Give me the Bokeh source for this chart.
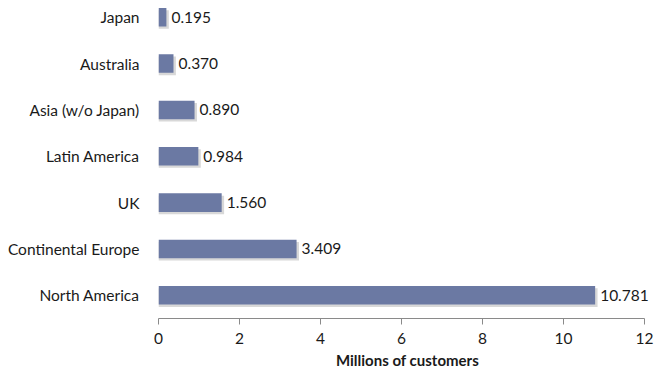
from bokeh.plotting import figure
from bokeh.models import Range1d, LinearAxis, FixedTicker, ColumnDataSource
from bokeh.core.properties import value
from bokeh.embed import file_html
from bokeh.resources import INLINE

regions = ["North America", "Continental Europe", "UK", "Latin America",
           "Asia (w/o Japan)", "Australia", "Japan"]
customers = [10.781, 3.409, 1.560, 0.984, 0.890, 0.370, 0.195]
value_labels = ["10.781", "3.409", "1.560", "0.984", "0.890", "0.370", "0.195"]
x_ticks = [0, 2, 4, 6, 8, 10, 12]

pos = list(range(len(regions)))
src = ColumnDataSource(dict(y=pos, v=customers, lab=value_labels,
                            ys=[p - 0.05 for p in pos],
                            vs=[c + 0.06 for c in customers]))

FONT = "Lato"
p = figure(width=656, height=374, output_backend="svg", toolbar_location=None,
           x_range=Range1d(0, 12.296), y_range=Range1d(-0.5, 6.36),
           x_axis_location=None, y_axis_location=None,
           min_border_left=158, min_border_right=0, min_border_top=0,
           min_border_bottom=56)
p.outline_line_color = None
p.grid.visible = False
p.background_fill_color = "white"

# shadow
p.hbar(y="ys", left=0, right="vs", height=0.4, source=src,
       fill_color="#b8b8b8", fill_alpha=0.55, line_color=None)
p.hbar(y="y", left=0, right="v", height=0.4, source=src,
       fill_color="#6b79a3", line_color=None)
p.text(x="v", y="y", text="lab", source=src, x_offset=5,
       text_baseline="middle", text_align="left",
       text_font=value(FONT), text_font_size="15.5px", text_color="#1a1a1a")

xa = LinearAxis(ticker=FixedTicker(ticks=x_ticks), bounds=(0, 12))
xa.axis_line_color = "#8a8a8a"
xa.major_tick_line_color = "#8a8a8a"
xa.major_tick_in = 0
xa.major_tick_out = 6
xa.minor_tick_line_color = None
xa.major_label_text_font = FONT
xa.major_label_text_font_size = "15.5px"
xa.major_label_text_color = "#1a1a1a"
xa.major_label_standoff = 8
xa.axis_label = "Millions of customers"
xa.axis_label_text_font = FONT
xa.axis_label_text_font_style = "bold"
xa.axis_label_text_font_size = "15px"
xa.axis_label_text_color = "#1a1a1a"
xa.axis_label_standoff = 4
p.add_layout(xa, "below")

ya = LinearAxis(ticker=FixedTicker(ticks=pos))
ya.major_label_overrides = {i: r for i, r in enumerate(regions)}
ya.axis_line_color = None
ya.major_tick_line_color = None
ya.minor_tick_line_color = None
ya.major_label_standoff = 13
ya.major_label_text_font = FONT
ya.major_label_text_font_size = "15.5px"
ya.major_label_text_color = "#1a1a1a"
p.add_layout(ya, "left")

open("out.html", "w").write(file_html(p, INLINE))
